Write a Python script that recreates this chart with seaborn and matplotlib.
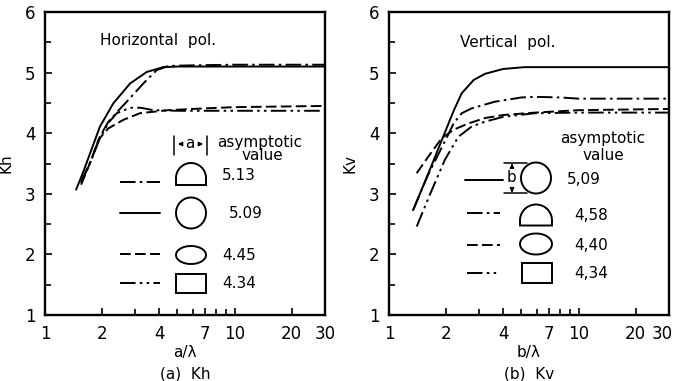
import numpy as np
import pandas as pd
import matplotlib.pyplot as plt
import matplotlib.transforms as mtransforms
import seaborn as sns
from matplotlib.patches import Polygon
from matplotlib.ticker import FixedLocator, NullFormatter

# Curve values (x = size / wavelength, K)
# (a) horizontal polarisation
kh_half_x = [1.55, 1.75, 1.95, 2.16, 2.45, 2.7, 3.3, 3.88, 4.47, 6, 10, 30]
kh_half_y = [3.2, 3.55, 3.95, 4.19, 4.38, 4.52, 4.82, 5.04, 5.11, 5.12, 5.13, 5.13]
kh_circle_x = [1.46, 1.6, 1.73, 1.95, 2.29, 2.81, 3.44, 4.2, 5, 7, 10, 20, 30]
kh_circle_y = [3.07, 3.38, 3.67, 4.11, 4.49, 4.82, 5.01, 5.09, 5.10, 5.10, 5.10, 5.10, 5.10]
kh_ellipse_x = [1.55, 1.75, 1.91, 2.16, 2.59, 3.17, 4.47, 7, 10, 30]
kh_ellipse_y = [3.15, 3.55, 3.89, 4.08, 4.22, 4.33, 4.38, 4.41, 4.43, 4.45]
kh_rect_x = [1.55, 1.75, 1.95, 2.16, 2.39, 2.81, 3.2, 3.72, 5, 10, 30]
kh_rect_y = [3.18, 3.55, 3.92, 4.17, 4.33, 4.42, 4.42, 4.38, 4.37, 4.37, 4.37]

# (b) vertical polarisation
kv_circle_x = [1.34, 1.6, 1.93, 2.2, 2.42, 2.8, 3.21, 4, 5.2, 10, 30]
kv_circle_y = [2.73, 3.31, 3.94, 4.38, 4.66, 4.88, 4.98, 5.06, 5.09, 5.09, 5.09]
kv_half_x = [1.34, 1.6, 2.01, 2.2, 2.42, 2.73, 3.62, 5, 5.9, 8, 10, 30]
kv_half_y = [2.73, 3.3, 3.92, 4.17, 4.33, 4.41, 4.52, 4.59, 4.60, 4.59, 4.57, 4.57]
kv_ellipse_x = [1.40, 1.6, 1.9, 2.2, 2.62, 3.21, 4, 5.9, 10, 30]
kv_ellipse_y = [3.34, 3.6, 3.92, 4.06, 4.16, 4.25, 4.30, 4.34, 4.38, 4.40]
kv_rect_x = [1.40, 1.65, 1.97, 2.32, 2.73, 3.21, 4, 5.89, 10, 30]
kv_rect_y = [2.46, 3.0, 3.56, 3.94, 4.11, 4.19, 4.27, 4.33, 4.34, 4.34]

kh_labels = ['5.13', '5.09', '4.45', '4.34']
kv_labels = ['5,09', '4,58', '4,40', '4,34']

xticks = [1, 2, 4, 7, 10, 20, 30]
xminor = [3, 5, 6, 8, 9]
yticks = [1, 2, 3, 4, 5, 6]
yminor = [1.5, 2.5, 3.5, 4.5, 5.5]


def make_df(parts):
    frames = []
    for name, xs, ys in parts:
        frames.append(pd.DataFrame({'x': xs, 'K': ys, 'shape': name}))
    return pd.concat(frames, ignore_index=True)


kh_df = make_df([('half', kh_half_x, kh_half_y), ('circle', kh_circle_x, kh_circle_y),
                 ('ellipse', kh_ellipse_x, kh_ellipse_y), ('rect', kh_rect_x, kh_rect_y)])
kv_df = make_df([('circle', kv_circle_x, kv_circle_y), ('half', kv_half_x, kv_half_y),
                 ('ellipse', kv_ellipse_x, kv_ellipse_y), ('rect', kv_rect_x, kv_rect_y)])

dash_map = {'circle': '', 'half': (8, 2.2, 1.3, 2.2),
            'ellipse': (5.5, 2.2), 'rect': (8, 2.2, 1.3, 2.2, 1.3, 2.2)}
mpl_dash = {'circle': '-', 'half': (0, (8, 2.2, 1.3, 2.2)),
            'ellipse': (0, (5.5, 2.2)), 'rect': (0, (8, 2.2, 1.3, 2.2, 1.3, 2.2))}
black = {k: 'black' for k in dash_map}

sns.set_style('ticks')
plt.rcParams['font.family'] = ['DejaVu Sans']
plt.rcParams['text.color'] = 'black'
plt.rcParams['axes.labelcolor'] = 'black'
plt.rcParams['xtick.color'] = 'black'
plt.rcParams['ytick.color'] = 'black'

fig = plt.figure(figsize=(6.75, 3.81), dpi=100)
ax_h = fig.add_axes([45 / 675, 66 / 381, 280 / 675, 303 / 381])
ax_v = fig.add_axes([389 / 675, 66 / 381, 280 / 675, 303 / 381])


def to_ax(left, x, y):
    # pixel position in the figure -> axes fraction
    return ((x - left) / 280, (315 - y) / 303)


def shape_points(kind, cx, cy, w, h):
    t = np.linspace(0, 2 * np.pi, 80)
    if kind in ('circle', 'ellipse'):
        return np.column_stack([cx + w / 2 * np.cos(t), cy + h / 2 * np.sin(t)])
    if kind == 'rect':
        return np.array([[cx - w / 2, cy - h / 2], [cx + w / 2, cy - h / 2],
                         [cx + w / 2, cy + h / 2], [cx - w / 2, cy + h / 2]])
    r = w / 2
    top = cy - h / 2
    a = np.linspace(0, np.pi, 40)
    arc = np.column_stack([cx + r * np.cos(a), top + r - r * np.sin(a)])
    return np.vstack([arc, [[cx - r, cy + h / 2], [cx + r, cy + h / 2]]])


def draw_key(ax, left, rows):
    for kind, ly, lx0, lx1, cx, cy, w, h, label, tx in rows:
        p0 = to_ax(left, lx0, ly)
        p1 = to_ax(left, lx1, ly)
        ax.plot([p0[0], p1[0]], [p0[1], p1[1]], color='black', lw=1.4,
                linestyle=mpl_dash[kind], transform=ax.transAxes)
        pts = np.array([to_ax(left, x, y) for x, y in shape_points(kind, cx, cy, w, h)])
        ax.add_patch(Polygon(pts, closed=True, fill=False, ec='black', lw=1.4,
                             transform=ax.transAxes))
        ax.text(*to_ax(left, tx, cy + 1), label, transform=ax.transAxes,
                ha='left', va='center', fontsize=11)


for ax, df, left in [(ax_h, kh_df, 45), (ax_v, kv_df, 389)]:
    sns.lineplot(data=df, x='x', y='K', hue='shape', style='shape', palette=black,
                 dashes=dash_map, estimator=None, sort=False, legend=False,
                 linewidth=1.4, ax=ax)
    ax.set_xscale('log')
    ax.set_xlim(1, 30)
    ax.set_ylim(1, 6)
    ax.xaxis.set_major_locator(FixedLocator(xticks))
    ax.set_xticklabels([str(v) for v in xticks])
    ax.xaxis.set_minor_locator(FixedLocator(xminor))
    ax.xaxis.set_minor_formatter(NullFormatter())
    ax.set_yticks(yticks)
    ax.set_yticklabels([str(v) for v in yticks])
    ax.yaxis.set_minor_locator(FixedLocator(yminor))
    ax.tick_params(which='major', direction='in', length=5, width=1.2,
                   labelsize=12, pad=7, top=False, right=False)
    ax.tick_params(which='minor', direction='in', length=4, width=1.2,
                   top=False, right=False)
    for sp in ax.spines.values():
        sp.set_visible(True)
        sp.set_linewidth(1.7)
        sp.set_color('black')

# keep the last "30" of panel (b) inside the canvas
last = ax_v.get_xticklabels()[-1]
last.set_transform(last.get_transform() +
                   mtransforms.ScaledTranslation(-7 / 100, 0, fig.dpi_scale_trans))

ax_h.set_xlabel('a/λ\n(a)  Kh', fontsize=11, linespacing=1.5, labelpad=2)
ax_v.set_xlabel('b/λ\n(b)  Kv', fontsize=11, linespacing=1.5, labelpad=2)
ax_h.set_ylabel('Kh', fontsize=11, labelpad=8)
ax_v.set_ylabel('Kv', fontsize=11, labelpad=8)

ax_h.text(*to_ax(45, 100, 41), 'Horizontal  pol.', transform=ax_h.transAxes,
          ha='left', va='center', fontsize=11)
ax_v.text(*to_ax(389, 460, 43), 'Vertical  pol.', transform=ax_v.transAxes,
          ha='left', va='center', fontsize=11)

# key, panel (a)
ax_h.text(*to_ax(45, 260, 142), 'asymptotic', transform=ax_h.transAxes,
          ha='center', va='center', fontsize=11)
ax_h.text(*to_ax(45, 262, 156), 'value', transform=ax_h.transAxes,
          ha='center', va='center', fontsize=11)
for bx in (174, 207):
    b0 = to_ax(45, bx, 136)
    b1 = to_ax(45, bx, 155)
    ax_h.plot([b0[0], b1[0]], [b0[1], b1[1]], color='black', lw=1.1,
              transform=ax_h.transAxes)
ax_h.text(*to_ax(45, 190, 143), 'a', transform=ax_h.transAxes,
          ha='center', va='center', fontsize=11)
for sx, ex in ((184, 175), (196, 206)):
    ax_h.annotate('', xy=to_ax(45, ex, 144), xytext=to_ax(45, sx, 144),
                  xycoords='axes fraction', textcoords='axes fraction',
                  arrowprops=dict(arrowstyle='-|>', color='black', lw=1,
                                  mutation_scale=6))
draw_key(ax_h, 45, [
    ('half', 182, 120, 160, 191, 174, 30, 22, kh_labels[0], 222),
    ('circle', 213, 120, 160, 191, 213, 30, 31, kh_labels[1], 229),
    ('ellipse', 254, 120, 160, 191, 255, 30, 18, kh_labels[2], 222),
    ('rect', 283, 120, 160, 191, 283, 30, 19, kh_labels[3], 222),
])

# key, panel (b)
ax_v.text(*to_ax(389, 603, 138), 'asymptotic', transform=ax_v.transAxes,
          ha='center', va='center', fontsize=11)
ax_v.text(*to_ax(389, 603, 156), 'value', transform=ax_v.transAxes,
          ha='center', va='center', fontsize=11)
for by in (163, 193):
    b0 = to_ax(389, 504, by)
    b1 = to_ax(389, 527, by)
    ax_v.plot([b0[0], b1[0]], [b0[1], b1[1]], color='black', lw=1.1,
              transform=ax_v.transAxes)
ax_v.text(*to_ax(389, 512, 178), 'b', transform=ax_v.transAxes,
          ha='center', va='center', fontsize=11)
for sy, ey in ((169, 163.5), (187, 192.5)):
    ax_v.annotate('', xy=to_ax(389, 512, ey), xytext=to_ax(389, 512, sy),
                  xycoords='axes fraction', textcoords='axes fraction',
                  arrowprops=dict(arrowstyle='-|>', color='black', lw=1,
                                  mutation_scale=6))
draw_key(ax_v, 389, [
    ('circle', 180, 465, 503, 536, 178, 30, 31, kv_labels[0], 567),
    ('half', 213, 467, 500, 536, 215, 32, 21, kv_labels[1], 574),
    ('ellipse', 245, 467, 500, 536, 244, 32, 21, kv_labels[2], 574),
    ('rect', 273, 467, 500, 537, 273, 30, 20, kv_labels[3], 574),
])

fig.savefig('out.png', dpi=100)
